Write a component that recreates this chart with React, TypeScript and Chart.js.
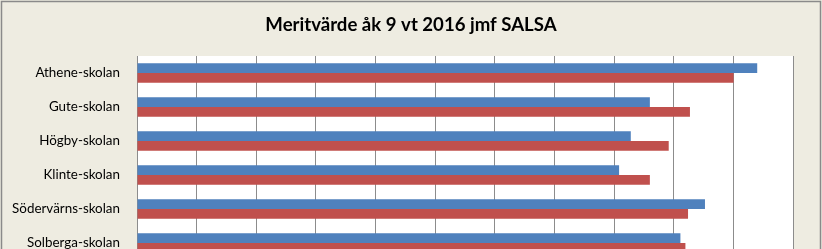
import React, { useEffect, useRef } from "react";
import { Chart, registerables } from "chart.js";

Chart.register(...registerables);

const categories = [
  "Athene-skolan",
  "Gute-skolan",
  "Högby-skolan",
  "Klinte-skolan",
  "Södervärns-skolan",
  "Solberga-skolan",
];
const meritvarde = [260, 215, 207, 202.1, 238.1, 227.8];
const salsa = [250.1, 231.8, 222.9, 215, 231, 229.9];
const axisMin = 0;
const axisMax = 275;
const axisStep = 25;
const title = "Meritvärde åk 9 vt 2016 jmf SALSA";

const W = 822;
const H = 290;

const framePlugin = {
  id: "frame",
  beforeDraw(chart: any) {
    const ctx = chart.ctx;
    ctx.save();
    ctx.fillStyle = "#EEECE1";
    ctx.fillRect(0, 0, chart.width, chart.height);
    ctx.strokeStyle = "#8a8a8a";
    ctx.lineWidth = 1.5;
    ctx.strokeRect(1.5, 1.5, chart.width - 3, chart.height - 3);
    const a = chart.chartArea;
    ctx.fillStyle = "#ffffff";
    ctx.fillRect(a.left, a.top, a.right - a.left, a.bottom - a.top);
    ctx.restore();
  },
  afterDraw(chart: any) {
    const ctx = chart.ctx;
    ctx.save();
    ctx.fillStyle = "#000000";
    ctx.font = "bold 18.6px Lato";
    ctx.textAlign = "center";
    ctx.textBaseline = "alphabetic";
    ctx.fillText(title, 411, 31);
    ctx.restore();
  },
};

export default function App() {
  const ref = useRef<HTMLCanvasElement>(null);
  useEffect(() => {
    if (!ref.current) return;
    const chart = new Chart(ref.current, {
      type: "bar",
      data: {
        labels: categories,
        datasets: [
          {
            label: "Meritvärde",
            data: meritvarde,
            backgroundColor: "#4F81BD",
            barPercentage: 1,
            categoryPercentage: 0.571,
          },
          {
            label: "SALSA",
            data: salsa,
            backgroundColor: "#C0504D",
            barPercentage: 1,
            categoryPercentage: 0.571,
          },
        ],
      },
      options: {
        indexAxis: "y",
        responsive: false,
        animation: false,
        layout: { padding: { left: 0, right: 29, top: 56, bottom: 0 } },
        plugins: {
          legend: { display: false },
          tooltip: { enabled: false },
          title: { display: false },
        },
        scales: {
          x: {
            min: axisMin,
            max: axisMax,
            ticks: {
              stepSize: axisStep,
              color: "#000",
              font: { family: "Lato", size: 12 },
            },
            grid: { color: "#8c8c8c", lineWidth: 1, drawTicks: false },
            border: { display: true, color: "#8c8c8c" },
            afterFit(scale: any) {
              scale.height = 30;
            },
          },
          y: {
            ticks: {
              color: "#000",
              font: { family: "Lato", size: 13.4 },
              padding: 17,
            },
            grid: { display: false, drawTicks: false },
            border: { display: true, color: "#8c8c8c" },
            afterFit(scale: any) {
              scale.width = 137;
            },
          },
        },
      },
      plugins: [framePlugin],
    });
    return () => chart.destroy();
  }, []);
  return (
    <div
      style={{
        position: "fixed",
        left: 0,
        top: 0,
        width: W,
        height: 249,
        overflow: "hidden",
      }}
    >
      <canvas ref={ref} width={W} height={H} style={{ width: W, height: H, display: "block" }} />
    </div>
  );
}
